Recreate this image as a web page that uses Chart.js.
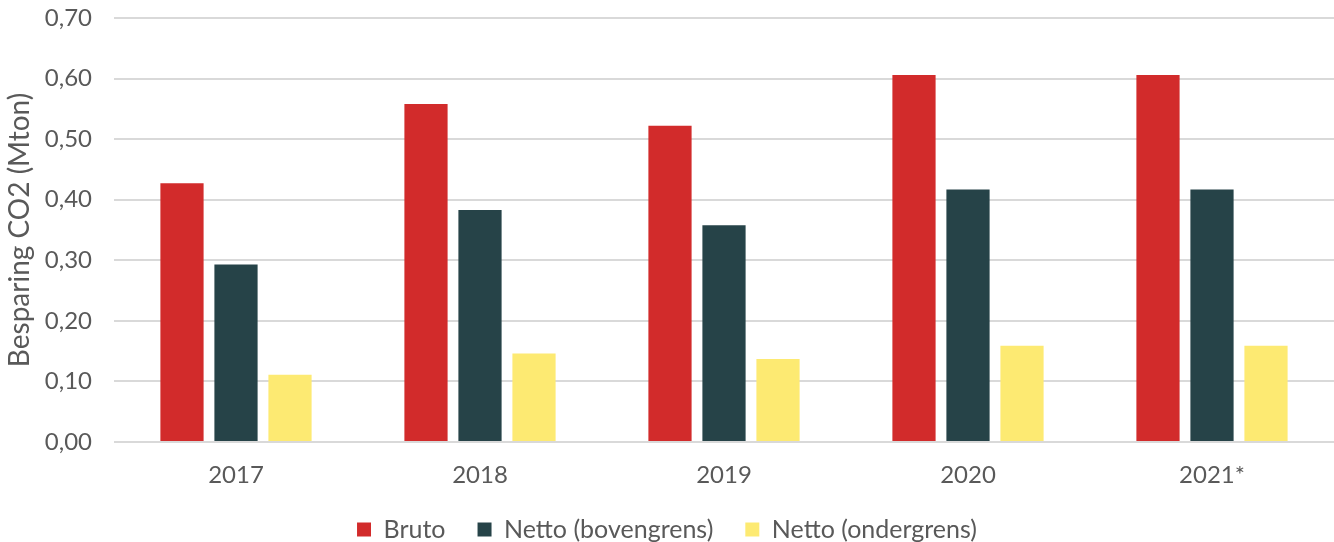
<!DOCTYPE html>
<html>
<head>
<meta charset="utf-8">
<script src="https://cdn.jsdelivr.net/npm/chart.js@4/dist/chart.umd.min.js"></script>
<style>
  html, body { margin: 0; padding: 0; background: #fff; }
  #wrap { width: 1334px; height: 542px; }
</style>
</head>
<body>
<div id="wrap"><canvas id="chart"></canvas></div>
<script>
const years = ['2017', '2018', '2019', '2020', '2021*'];
const bruto = [0.427, 0.558, 0.522, 0.606, 0.606];
const nettoBoven = [0.293, 0.383, 0.358, 0.417, 0.417];
const nettoOnder = [0.111, 0.146, 0.137, 0.159, 0.159];

const TXT = '#595959';
const FONT = 'Lato';

const ctx = document.getElementById('chart').getContext('2d');
new Chart(ctx, {
    type: 'bar',
    data: {
        labels: years,
        datasets: [
            { label: 'Bruto', data: bruto, backgroundColor: '#D22B2B' },
            { label: 'Netto (bovengrens)', data: nettoBoven, backgroundColor: '#264348' },
            { label: 'Netto (ondergrens)', data: nettoOnder, backgroundColor: '#FDEA72' }
        ]
    },
    options: {
        responsive: true, maintainAspectRatio: false, animation: false,
        layout: { padding: { top: 18, right: 0, left: 0, bottom: -10 } },
        datasets: { bar: { barPercentage: 0.8, categoryPercentage: 0.664 } },
        plugins: {
            legend: {
                position: 'bottom',
                labels: { boxWidth: 14, boxHeight: 14, padding: 32, color: TXT, font: { family: FONT, size: 25, lineHeight: 1 } }
            },
            tooltip: { enabled: false }
        },
        scales: {
            y: {
                min: 0, max: 0.7,
                ticks: { stepSize: 0.1, color: TXT, padding: 22, font: { family: FONT, size: 24 },
                    callback: v => v.toFixed(2).replace('.', ',') },
                grid: { color: '#d9d9d9', lineWidth: 2, drawTicks: false },
                border: { display: false },
                title: { display: true, text: 'Besparing CO2 (Mton)', color: TXT, font: { family: FONT, size: 28 }, padding: { top: 3, bottom: 7 } },
                // pin the axis box so the plot starts where the reference does
                afterFit: s => { s.width = 114; s.paddingTop = 0; s.paddingBottom = 0; }
            },
            x: {
                ticks: { color: TXT, padding: 21, font: { family: FONT, size: 24, lineHeight: 1 } },
                grid: { display: false, drawTicks: false },
                border: { display: false },
                afterFit: s => { s.height = 43; }
            }
        }
    }
});
</script>
</body>
</html>
